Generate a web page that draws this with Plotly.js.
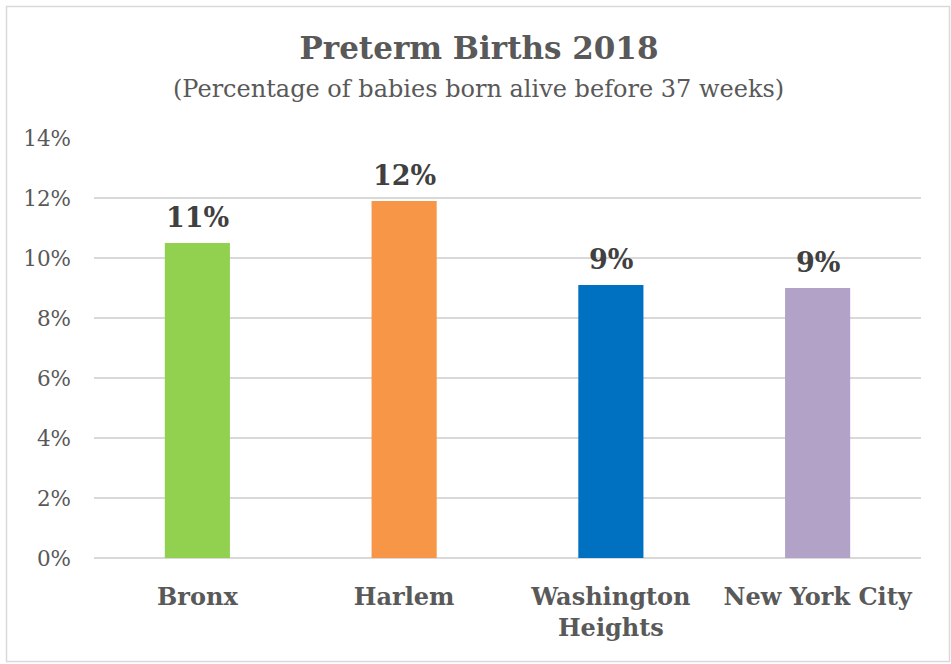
<!DOCTYPE html>
<html>
<head>
<meta charset="utf-8">
<script src="https://cdn.plot.ly/plotly-3.0.1.min.js"></script>
<style>html,body{margin:0;padding:0;background:#fff;}#chart{width:951px;height:664px;}</style>
</head>
<body>
<div id="chart"></div>
<script>
const categories = ["Bronx", "Harlem", "Washington<br>Heights", "New York City"];
const values = [10.5, 11.9, 9.1, 9.0];
const labels = ["11%", "12%", "9%", "9%"];
const colors = ["#92D050", "#F79646", "#0070C0", "#B3A2C7"];
const tickVals = [0, 2, 4, 6, 8, 10, 12, 14];
const tickText = ["0%", "2%", "4%", "6%", "8%", "10%", "12%", "14%"];

const W = 951, H = 664;
const m = {l: 94, r: 30, t: 138, b: 106};
const pw = W - m.l - m.r, ph = H - m.t - m.b;
const px = x => (x - m.l) / pw;
const py = y => (H - m.b - y) / ph;

const font = "DejaVu Serif, Liberation Serif, serif";

const trace = {
  type: "bar",
  x: categories,
  y: values,
  marker: {color: colors},
  width: 0.315,
  hoverinfo: "none"
};

const annotations = categories.map((c, i) => ({
  x: c, y: values[i], xref: "x", yref: "y",
  text: "<b>" + labels[i] + "</b>",
  showarrow: false, yanchor: "bottom", yshift: 8,
  font: {family: font, size: 27, color: "#404040"}
}));
annotations.push({
  xref: "paper", yref: "paper", x: px(478), y: py(89),
  xanchor: "center", yanchor: "middle", showarrow: false,
  text: "(Percentage of babies born alive before 37 weeks)",
  font: {family: font, size: 24, color: "#595959"}
});

const layout = {
  width: W, height: H,
  margin: m,
  paper_bgcolor: "#fff", plot_bgcolor: "#fff",
  showlegend: false,
  title: {
    text: "<b>Preterm Births 2018</b>",
    x: 479 / W, xanchor: "center", xref: "container",
    y: 1 - 48 / H, yanchor: "middle", yref: "container",
    font: {family: font, size: 31, color: "#595959"}
  },
  xaxis: {
    showgrid: false, zeroline: false, showline: false,
    ticks: "", ticklabelstandoff: 22,
    tickfont: {family: font, size: 24, color: "#595959", weight: "bold"}
  },
  yaxis: {
    range: [0, 14], tickvals: tickVals, ticktext: tickText,
    showgrid: true, gridcolor: "#d9d9d9", gridwidth: 1.5,
    zeroline: true, zerolinecolor: "#d9d9d9", zerolinewidth: 1.5,
    showline: false, ticks: "", ticklabelstandoff: 22,
    tickfont: {family: font, size: 21.5, color: "#595959"}
  },
  annotations: annotations,
  shapes: [{
    type: "rect", xref: "paper", yref: "paper", layer: "below",
    x0: px(6.5), x1: px(949.5), y0: py(661.5), y1: py(6.5),
    line: {color: "#d9d9d9", width: 1.5}, fillcolor: "rgba(0,0,0,0)"
  }]
};

Plotly.newPlot("chart", [trace], layout, {displayModeBar: false, staticPlot: true});
</script>
</body>
</html>
